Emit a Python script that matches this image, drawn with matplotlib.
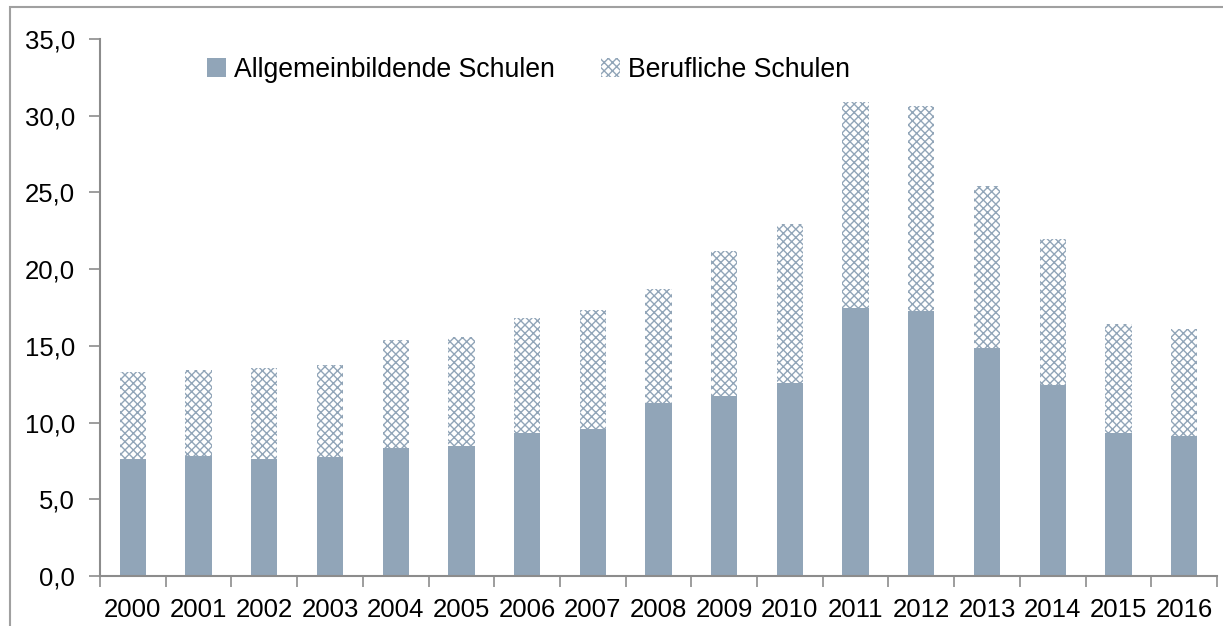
import matplotlib.pyplot as plt
import matplotlib.patches as patches
import numpy as np

plt.rcParams['font.family'] = ['Liberation Sans', 'DejaVu Sans']
plt.rcParams['hatch.linewidth'] = 1.0

jahre = ['2000', '2001', '2002', '2003', '2004', '2005', '2006', '2007', '2008',
         '2009', '2010', '2011', '2012', '2013', '2014', '2015', '2016']
# Allgemeinbildende Schulen (unterer Teil)
allgemein = [7.65, 7.8, 7.6, 7.75, 8.35, 8.5, 9.3, 9.6, 11.25,
             11.7, 12.55, 17.45, 17.25, 14.85, 12.45, 9.3, 9.1]
# Gesamthoehe der Saeulen
gesamt = [13.3, 13.4, 13.55, 13.75, 15.4, 15.55, 16.8, 17.35, 18.7,
          21.2, 22.95, 30.9, 30.65, 25.45, 21.95, 16.4, 16.1]
beruflich = [g - a for g, a in zip(gesamt, allgemein)]

farbe = '#91a5b8'
achse = '#8c8c8c'

fig = plt.figure(figsize=(12.23, 6.26), dpi=100)
ax = fig.add_axes([100 / 1223, 50 / 626, 1117 / 1223, 537 / 626])

x = np.arange(len(jahre))
ax.bar(x, allgemein, width=0.4, color=farbe, edgecolor='none',
       label='Allgemeinbildende Schulen')
ax.bar(x, beruflich, width=0.4, bottom=allgemein, facecolor='white',
       edgecolor=farbe, hatch='xxxx', linewidth=0, label='Berufliche Schulen')

ax.set_xlim(-0.5, len(jahre) - 0.5)
ax.set_ylim(0, 35)
ax.set_yticks(np.arange(0, 36, 5))
ax.set_yticklabels([f'{v:.1f}'.replace('.', ',') for v in np.arange(0, 36, 5)])

# Kategoriebeschriftung mittig, Striche an den Grenzen
ax.set_xticks(x)
ax.set_xticklabels(jahre)
ax.set_xticks(np.arange(-0.5, len(jahre), 1), minor=True)
ax.tick_params(axis='x', which='major', length=0, labelsize=18.5, pad=16)
ax.tick_params(axis='x', which='minor', length=8, width=1.2, color=achse, direction='out')
ax.tick_params(axis='y', length=8, width=1.2, color=achse, labelsize=18.5, pad=10)

for s in ['top', 'right']:
    ax.spines[s].set_visible(False)
for s in ['left', 'bottom']:
    ax.spines[s].set_color(achse)
    ax.spines[s].set_linewidth(1.5)

ax.legend(loc='center left', bbox_to_anchor=(183 / 1223, 1 - 70 / 626),
          bbox_transform=fig.transFigure, ncol=2, frameon=False, fontsize=19.2,
          handlelength=0.7, handleheight=0.7, handletextpad=0.3, columnspacing=1.75)

# Rahmen um die Grafik
rahmen = patches.Rectangle((10 / 1223, -0.05), 1.1, 1 - 7 / 626 + 0.05,
                           transform=fig.transFigure, fill=False,
                           edgecolor='#a0a0a0', linewidth=1.5)
fig.patches.append(rahmen)

fig.savefig('out.png', dpi=100)
